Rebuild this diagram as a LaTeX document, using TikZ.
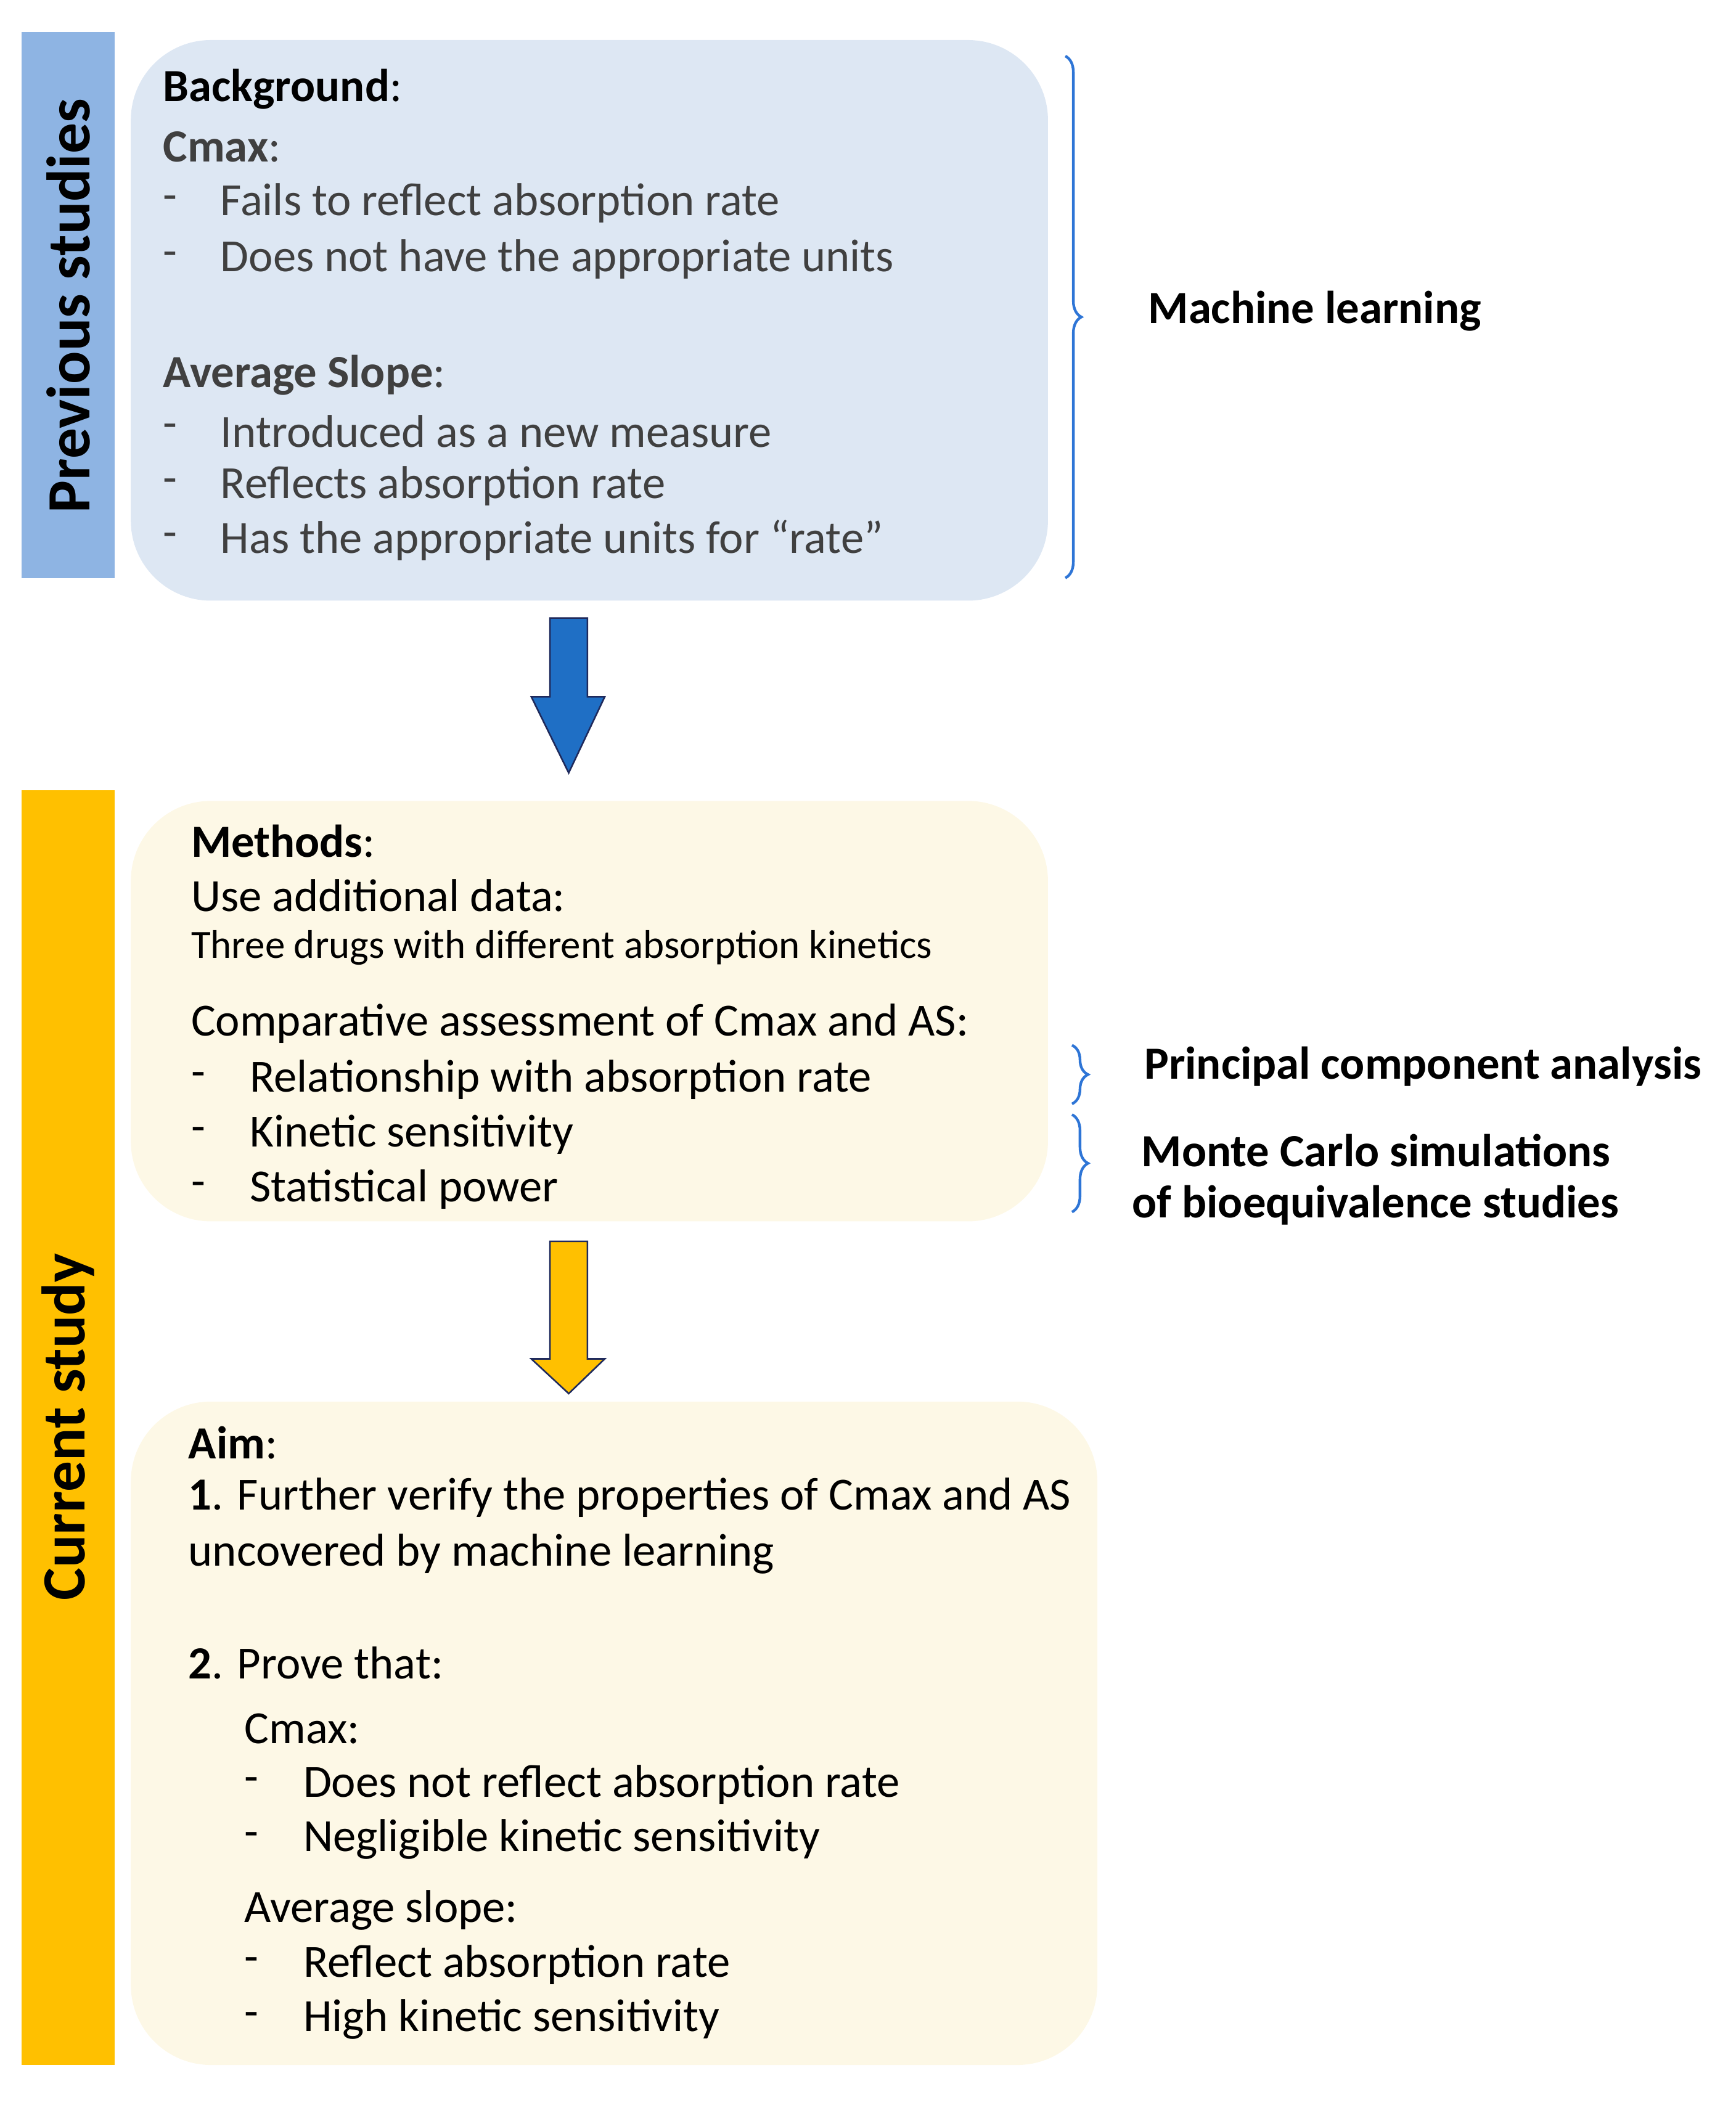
\documentclass[tikz,border=0pt]{standalone}
\usepackage{fontspec}
\setmainfont{Carlito}
\usetikzlibrary{decorations.pathreplacing}
\definecolor{bluebar}{HTML}{8EB4E3}
\definecolor{bluebox}{HTML}{DDE7F3}
\definecolor{orbar}{HTML}{FFC000}
\definecolor{ybox}{HTML}{FDF8E6}
\definecolor{txt}{HTML}{404040}
\definecolor{brc}{HTML}{2E75D6}
\definecolor{arrblue}{HTML}{1F6FC5}
\definecolor{navy}{HTML}{1F2A5C}
\begin{document}
\begin{tikzpicture}[x=1pt,y=-1pt,
  t/.style={anchor=west,inner sep=0,font=\fontsize{34.5}{40}\selectfont,text=txt},
  tb/.style={anchor=west,inner sep=0,font=\fontsize{34.5}{40}\selectfont},
  side/.style={font=\fontsize{46}{52}\selectfont\bfseries,rotate=90},
  br/.style={draw=brc,line width=2pt,decorate,decoration={brace,amplitude=12pt}},
  lab/.style={anchor=west,inner sep=0,font=\fontsize{34.5}{40}\selectfont\bfseries}]
\useasboundingbox (0,0) rectangle (1300,1577);
% bars
\fill[bluebar] (16,24) rectangle (86,433);
\node[side] (ps) at (51,229) {Previous studies};
\fill[orbar] (16,592) rectangle (86,1547);
\node[side] (cs) at (51,1069) {Current study};
% boxes
\fill[bluebox,rounded corners=60pt] (98,30) rectangle (785,450);
\fill[ybox,rounded corners=60pt] (98,600) rectangle (785,915);
\fill[ybox,rounded corners=60pt] (98,1050) rectangle (822,1547);
% box 1 text
\node[tb] (b1) at (122,67) {\textbf{Background}:};
\node[t] at (122,110) {\textbf{Cmax}:};
\node[t] at (122,152) {-};\node[t] at (165,152) {Fails to reflect absorption rate};
\node[t] at (122,194) {-};\node[t] at (165,194) {Does not have the appropriate units};
\node[t] at (122,281) {\textbf{Average Slope}:};
\node[t] at (122,323) {-};\node[t] at (165,323) {Introduced as a new measure};
\node[t] at (122,364) {-};\node[t] at (165,364) {Reflects absorption rate};
\node[t] at (122,405) {-};\node[t] at (165,405) {Has the appropriate units for “rate”};
% box 2 text
\node[tb] at (143,630) {\textbf{Methods}:};
\node[tb] at (143,671) {Use additional data:};
\node[tb,font=\fontsize{30}{34}\selectfont] at (143,710) {Three drugs with different absorption kinetics};
\node[tb] at (143,767) {Comparative assessment of Cmax and AS:};
\node[tb] at (143,809) {-};\node[tb] at (187,809) {Relationship with absorption rate};
\node[tb] at (143,850) {-};\node[tb] at (187,850) {Kinetic sensitivity};
\node[tb] at (143,891) {-};\node[tb] at (187,891) {Statistical power};
% box 3 text
\node[tb] at (141,1081) {\textbf{Aim}:};
\node[tb] at (141,1122) {\textbf{1}. Further verify the properties of Cmax and AS};
\node[tb] at (141,1164) {uncovered by machine learning};
\node[tb] at (141,1246) {\textbf{2}. Prove that:};
\node[tb] at (183,1295) {Cmax:};
\node[tb] at (183,1337) {-};\node[tb] at (227,1337) {Does not reflect absorption rate};
\node[tb] at (183,1378) {-};\node[tb] at (227,1378) {Negligible kinetic sensitivity};
\node[tb] at (183,1431) {Average slope:};
\node[tb] at (183,1472) {-};\node[tb] at (227,1472) {Reflect absorption rate};
\node[tb] at (183,1513) {-};\node[tb] at (227,1513) {High kinetic sensitivity};
% braces
\coordinate (a1) at (798,42);\coordinate (a2) at (798,433);
\draw[br] (a1) -- (a2);
\node[lab] (ml) at (860,233) {Machine learning};
\coordinate (c1) at (803,783);\coordinate (c2) at (803,827);
\draw[br] (c1) -- (c2);
\node[lab] (pca) at (857,799) {Principal component analysis};
\coordinate (d1) at (803,835);\coordinate (d2) at (803,908);
\draw[br] (d1) -- (d2);
\node[lab] (mc1) at (855,862) {Monte Carlo simulations};
\node[lab] (mc2) at (848,903) {of bioequivalence studies};
% arrows
\draw[fill=arrblue,draw=navy,line width=1.2pt]
  (412,463) -- (440,463) -- (440,522) -- (453,522) -- (426,579) -- (398,522) -- (412,522) -- cycle;
\draw[fill=orbar,draw=navy,line width=1.2pt]
  (412,930) -- (440,930) -- (440,1018) -- (453,1018) -- (426,1044) -- (398,1018) -- (412,1018) -- cycle;
\end{tikzpicture}
\end{document}
